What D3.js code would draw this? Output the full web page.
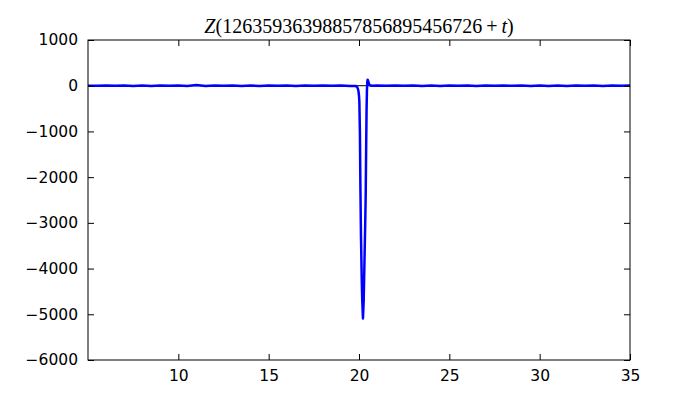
<!DOCTYPE html>
<html><head><meta charset="utf-8">
<script src="https://cdn.jsdelivr.net/npm/d3@7"></script>
<style>body{margin:0;background:#fff}svg{display:block}</style>
</head><body><svg id="c" width="700" height="400"></svg>
<script>
const tValues = [5,5.5,6,6.5,7,7.5,8,8.5,9,9.5,10,10.5,11,11.5,12,12.5,13,13.5,14,14.5,15,15.5,16,16.5,17,17.5,18,18.5,19,19.5,19.8,
  19.89,19.95,19.97,20.0,20.02,20.05,20.08,20.11,20.15,20.18,20.22,20.26,20.30,20.34,20.37,20.40,20.42,20.44,20.46,20.48,20.51,20.55,20.60,20.70,
  21,21.5,22,22.5,23,23.5,24,24.5,25,25.5,26,26.5,27,27.5,28,28.5,29,29.5,30,30.5,31,31.5,32,32.5,33,33.5,34,34.5,35];
const zValues = [0,-2,3,-3,2,-4,3,-6,5,-3,4,-5,14,-4,3,-3,6,-4,2,-5,3,-2,4,-6,3,-3,5,-3,2,-4,-5,
  -25,-80,-120,-220,-350,-1000,-2300,-3300,-4200,-4700,-5090,-4700,-3900,-3100,-2400,-1200,-500,-100,80,130,100,40,10,0,
  2,-3,4,-3,5,-4,3,-5,3,-2,5,-6,4,-3,5,-3,6,-5,3,-4,3,-5,6,-3,4,-6,5,-3,2,-2];
const xTicks = [10,15,20,25,30,35];
const yTicks = [1000,0,-1000,-2000,-3000,-4000,-5000,-6000];
const xDomain = [5,35];
const yDomain = [-6000,1000];

const svg = d3.select('#c');
const L=88,R=630,T=40,B=360;
const x = d3.scaleLinear().domain(xDomain).range([L,R]);
const y = d3.scaleLinear().domain(yDomain).range([B,T]);
const font = "'DejaVu Sans', sans-serif";

// zero line
svg.append('line').attr('x1',L).attr('x2',R).attr('y1',y(0)).attr('y2',y(0)).attr('stroke','#000').attr('stroke-width',1);

svg.append('clipPath').attr('id','cp').append('rect').attr('x',L).attr('y',T).attr('width',R-L).attr('height',B-T);
const data = tValues.map((t,i)=>[t,zValues[i]]);
svg.append('path').attr('clip-path','url(#cp)').datum(data)
  .attr('d', d3.line().x(d=>x(d[0])).y(d=>y(d[1])))
  .attr('fill','none').attr('stroke','#0000ff').attr('stroke-width',2.5).attr('stroke-linejoin','round');

// axes
const fmt = d=> d<0 ? '\u2212'+Math.abs(d) : String(d);
const xb = svg.append('g').attr('transform',`translate(0,${B})`).call(d3.axisBottom(x).tickValues(xTicks).tickSizeInner(-6).tickSizeOuter(0).tickPadding(10).tickFormat(fmt));
const xt = svg.append('g').attr('transform',`translate(0,${T})`).call(d3.axisTop(x).tickValues(xTicks).tickSizeInner(-6).tickSizeOuter(0).tickFormat(''));
const yl = svg.append('g').attr('transform',`translate(${L},0)`).call(d3.axisLeft(y).tickValues(yTicks).tickSizeInner(-6).tickSizeOuter(0).tickPadding(10).tickFormat(fmt));
const yr = svg.append('g').attr('transform',`translate(${R},0)`).call(d3.axisRight(y).tickValues(yTicks).tickSizeInner(-6).tickSizeOuter(0).tickFormat(''));
[xb,xt,yl,yr].forEach(g=>{g.select('.domain').remove(); g.selectAll('line').attr('stroke','#000'); g.selectAll('text').attr('font-family',font).attr('font-size',15.5).attr('fill','#000');});
xb.selectAll('text').attr('dy','0.71em');

svg.append('rect').attr('x',L).attr('y',T).attr('width',R-L).attr('height',B-T).attr('fill','none').attr('stroke','#000').attr('stroke-width',1);

// title
const title = svg.append('text').attr('x',(L+R)/2).attr('y',33).attr('text-anchor','middle')
  .attr('font-family',"'Liberation Serif', 'DejaVu Serif', serif").attr('font-size',20).attr('fill','#000');
title.append('tspan').attr('font-style','italic').text('Z');
title.append('tspan').text('(12635936398857856895456726\u2009+\u2009');
title.append('tspan').attr('font-style','italic').text('t');
title.append('tspan').text(')');
</script></body></html>
